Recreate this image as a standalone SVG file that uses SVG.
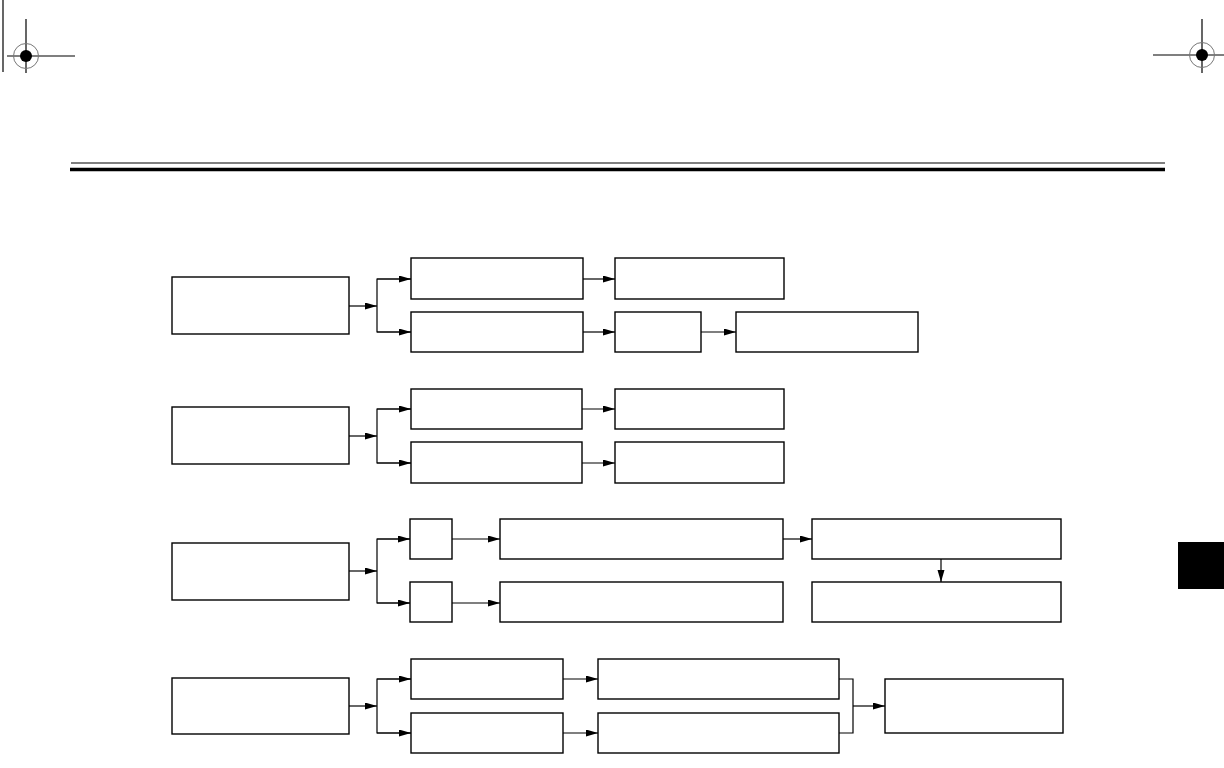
<svg xmlns="http://www.w3.org/2000/svg" width="1224" height="768" viewBox="0 0 1224 768">
<style>
.box{fill:#fff;stroke:#000;stroke-width:1.4}
.ln{fill:none;stroke:#000;stroke-width:1.2}
.arr{fill:none;stroke:#000;stroke-width:1.2;marker-end:url(#ah)}
.crop{stroke:#000;stroke-width:1.2;fill:none}
</style>
<defs>
<marker id="ah" markerUnits="userSpaceOnUse" markerWidth="12" markerHeight="8" refX="12" refY="3.5" orient="auto">
<path d="M0,0 L12,3.5 L0,7 z" fill="#000"/>
</marker>
</defs>
<rect width="1224" height="768" fill="#fff"/>
<g id="cropmarks">
<line class="crop" x1="3" y1="0" x2="3" y2="72"/>
<line class="crop" x1="7" y1="56" x2="75" y2="56"/>
<line class="crop" x1="26" y1="19" x2="26" y2="73"/>
<circle cx="26" cy="56" r="12.5" fill="none" stroke="#777" stroke-width="1"/>
<circle cx="26" cy="56" r="6" fill="#000"/>
<line class="crop" x1="1153" y1="55" x2="1224" y2="55"/>
<line class="crop" x1="1202" y1="19" x2="1202" y2="73"/>
<circle cx="1202" cy="55" r="12.5" fill="none" stroke="#777" stroke-width="1"/>
<circle cx="1202" cy="55" r="6" fill="#000"/>
</g>
<g id="header">
<line x1="71" y1="163" x2="1165" y2="163" stroke="#000" stroke-width="1.2"/>
<line x1="70" y1="169.5" x2="1165" y2="169.5" stroke="#000" stroke-width="3.4"/>
<rect x="1178" y="542" width="46" height="47" fill="#000"/>
</g>
<g id="g1-main"><rect class="box" x="172" y="277" width="177" height="57"/></g>
<g id="g1-a"><rect class="box" x="411" y="258" width="172" height="41"/></g>
<g id="g1-b"><rect class="box" x="411" y="312" width="172" height="40"/></g>
<g id="g1-c"><rect class="box" x="615" y="258" width="169" height="41"/></g>
<g id="g1-d"><rect class="box" x="615" y="312" width="86" height="40"/></g>
<g id="g1-e"><rect class="box" x="736" y="312" width="182" height="40"/></g>
<g id="g2-main"><rect class="box" x="172" y="407" width="177" height="57"/></g>
<g id="g2-a"><rect class="box" x="411" y="389" width="171" height="40"/></g>
<g id="g2-b"><rect class="box" x="411" y="442" width="171" height="41"/></g>
<g id="g2-c"><rect class="box" x="615" y="389" width="169" height="40"/></g>
<g id="g2-d"><rect class="box" x="615" y="442" width="169" height="41"/></g>
<g id="g3-main"><rect class="box" x="172" y="543" width="177" height="57"/></g>
<g id="g3-a"><rect class="box" x="410" y="519" width="42" height="40"/></g>
<g id="g3-b"><rect class="box" x="410" y="582" width="42" height="40"/></g>
<g id="g3-c"><rect class="box" x="500" y="519" width="283" height="40"/></g>
<g id="g3-d"><rect class="box" x="500" y="582" width="283" height="40"/></g>
<g id="g3-e"><rect class="box" x="812" y="519" width="249" height="40"/></g>
<g id="g3-f"><rect class="box" x="812" y="582" width="249" height="40"/></g>
<g id="g4-main"><rect class="box" x="172" y="678" width="177" height="56"/></g>
<g id="g4-a"><rect class="box" x="411" y="659" width="152" height="40"/></g>
<g id="g4-b"><rect class="box" x="411" y="713" width="152" height="40"/></g>
<g id="g4-c"><rect class="box" x="598" y="659" width="241" height="40"/></g>
<g id="g4-d"><rect class="box" x="598" y="713" width="241" height="40"/></g>
<g id="g4-e"><rect class="box" x="885" y="679" width="178" height="54"/></g>
<g id="connectors">
<line class="arr" x1="349" y1="306" x2="377" y2="306"/>
<polyline class="ln" points="411,279 377,279 377,332 411,332"/>
<line class="arr" x1="377" y1="279" x2="411" y2="279"/>
<line class="arr" x1="377" y1="332" x2="411" y2="332"/>
<line class="arr" x1="583" y1="279" x2="615" y2="279"/>
<line class="arr" x1="583" y1="332" x2="615" y2="332"/>
<line class="arr" x1="701" y1="332" x2="736" y2="332"/>

<line class="arr" x1="349" y1="436" x2="377" y2="436"/>
<polyline class="ln" points="411,409 377,409 377,463 411,463"/>
<line class="arr" x1="377" y1="409" x2="411" y2="409"/>
<line class="arr" x1="377" y1="463" x2="411" y2="463"/>
<line class="arr" x1="582" y1="409" x2="615" y2="409"/>
<line class="arr" x1="582" y1="463" x2="615" y2="463"/>

<line class="arr" x1="349" y1="571" x2="377" y2="571"/>
<polyline class="ln" points="410,539 377,539 377,603 410,603"/>
<line class="arr" x1="377" y1="539" x2="410" y2="539"/>
<line class="arr" x1="377" y1="603" x2="410" y2="603"/>
<line class="arr" x1="452" y1="539" x2="500" y2="539"/>
<line class="arr" x1="452" y1="603" x2="500" y2="603"/>
<line class="arr" x1="783" y1="539" x2="812" y2="539"/>
<line class="arr" x1="941" y1="559" x2="941" y2="582"/>

<line class="arr" x1="349" y1="706" x2="377" y2="706"/>
<polyline class="ln" points="411,679 377,679 377,733 411,733"/>
<line class="arr" x1="377" y1="679" x2="411" y2="679"/>
<line class="arr" x1="377" y1="733" x2="411" y2="733"/>
<line class="arr" x1="563" y1="679" x2="598" y2="679"/>
<line class="arr" x1="563" y1="733" x2="598" y2="733"/>
<polyline class="ln" points="839,679 853,679 853,733 839,733"/>
<line class="arr" x1="853" y1="706" x2="885" y2="706"/>
</g>
</svg>
